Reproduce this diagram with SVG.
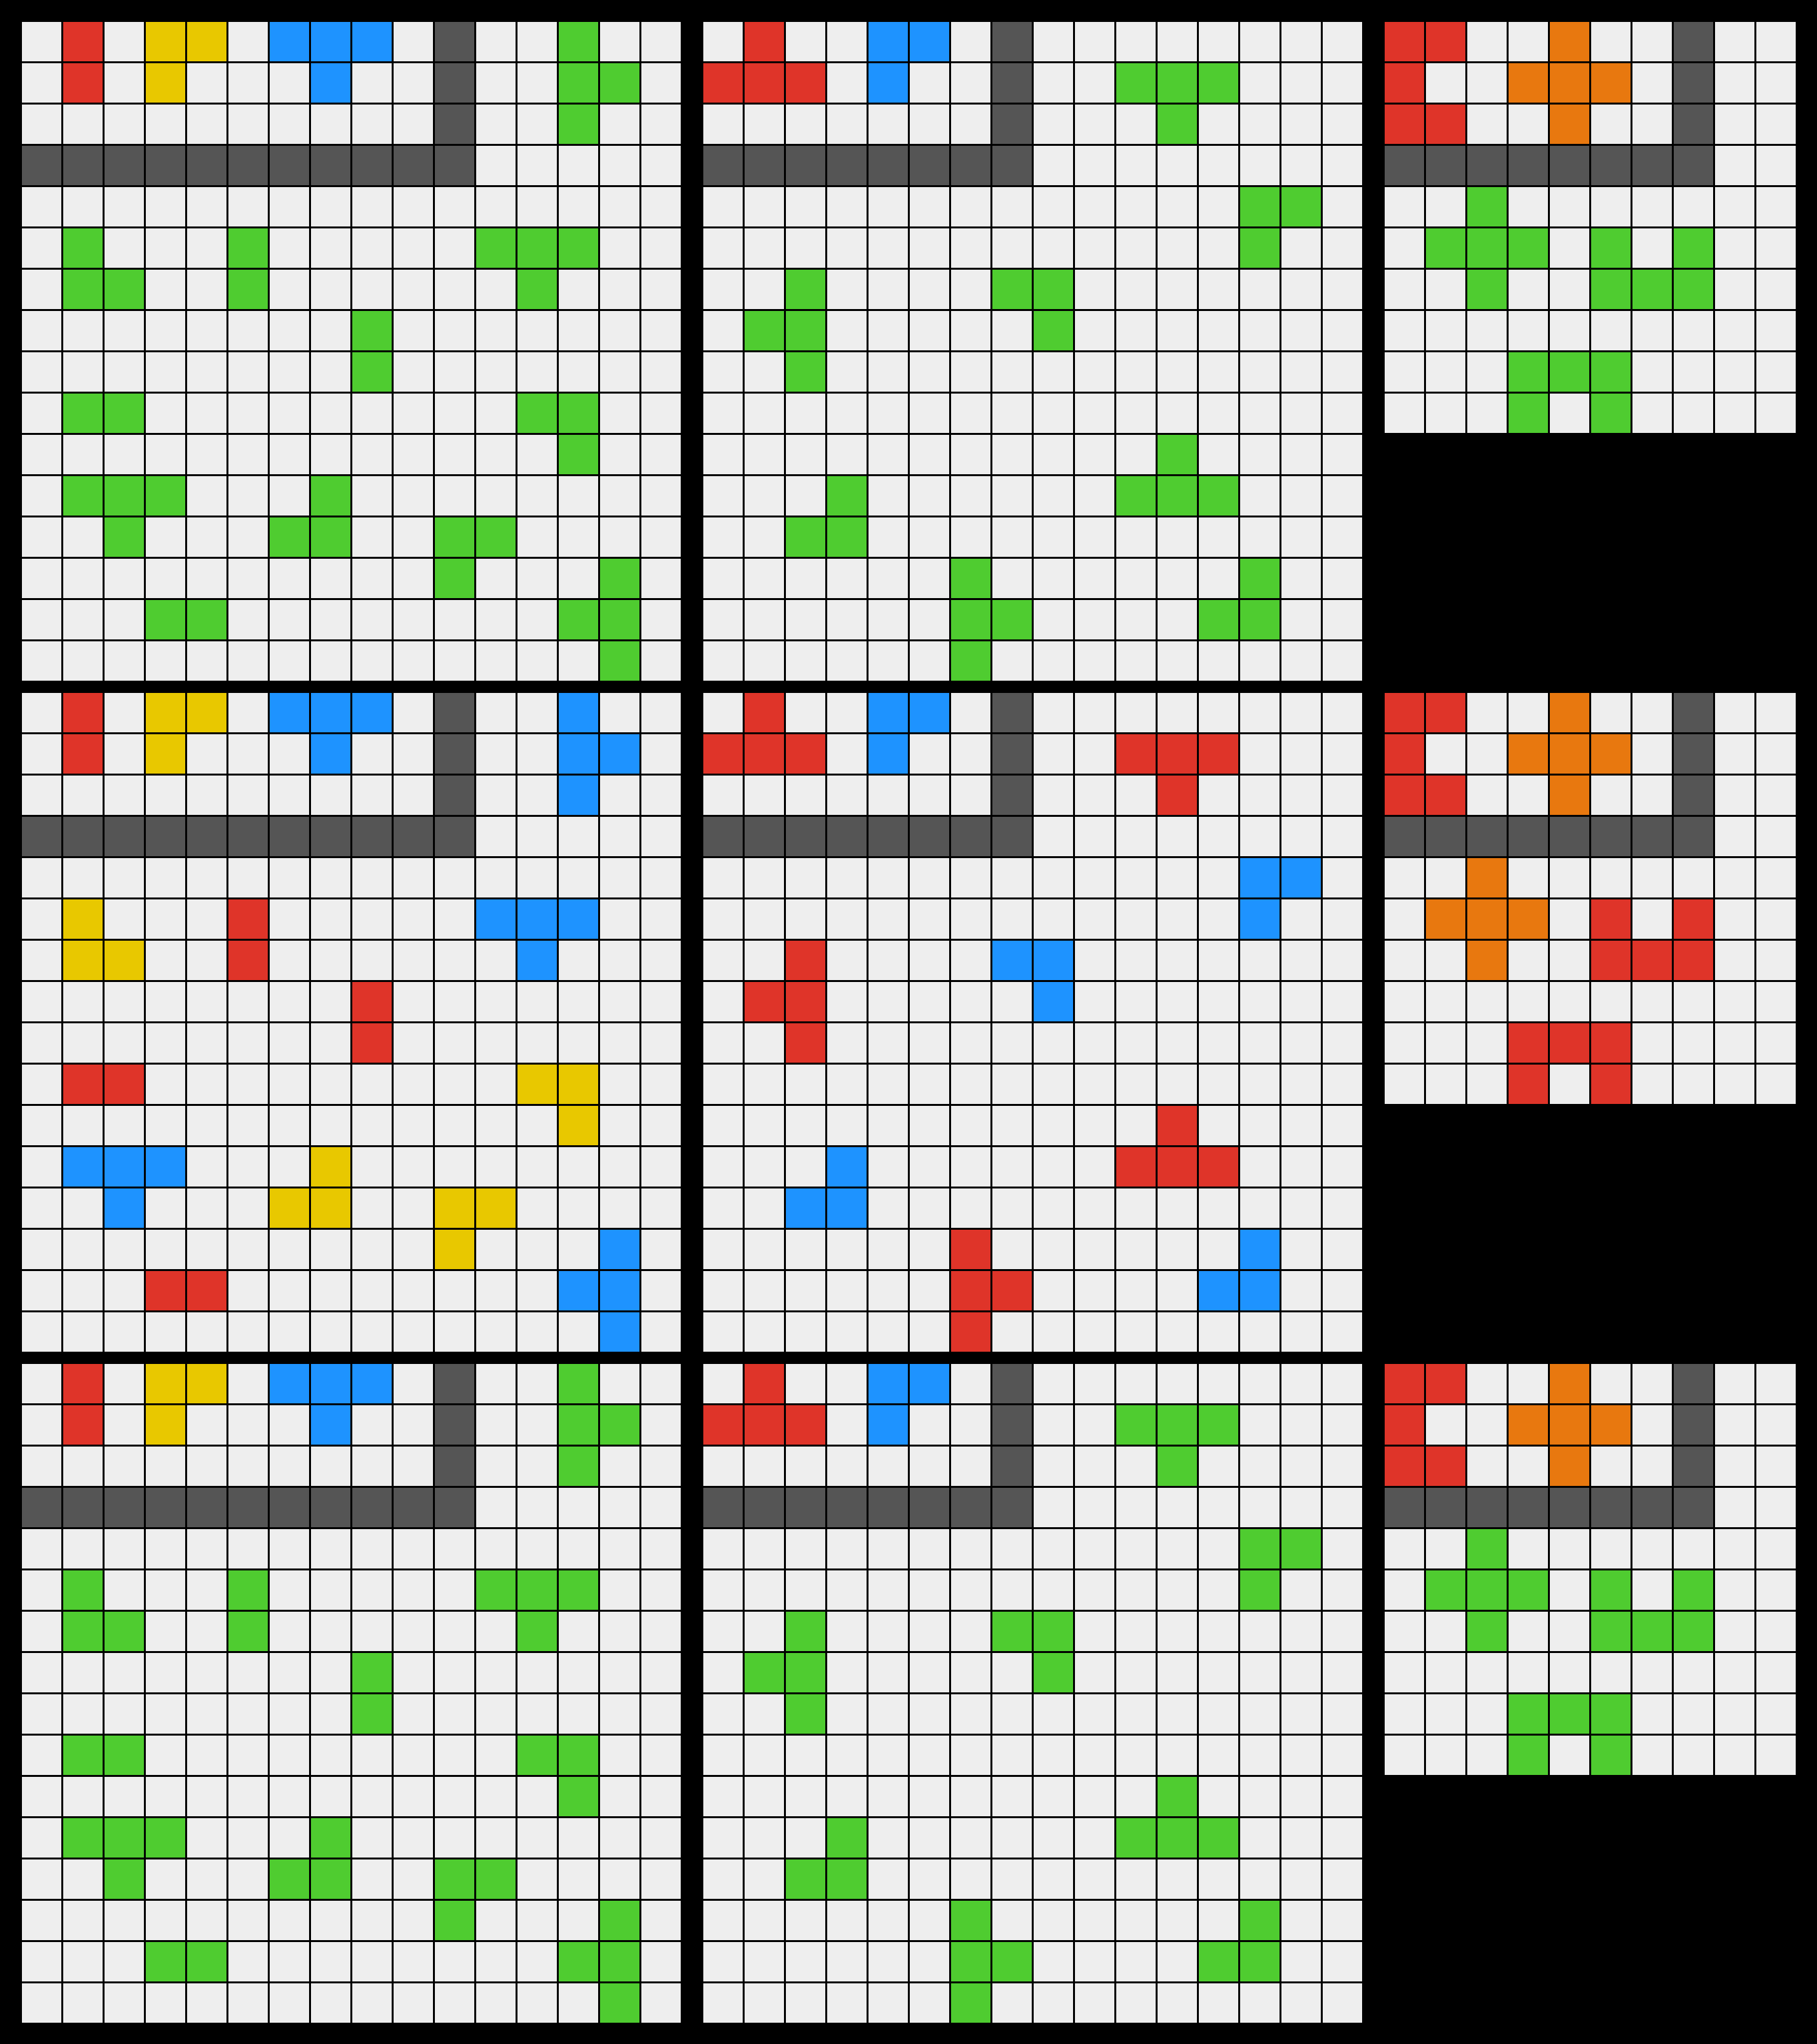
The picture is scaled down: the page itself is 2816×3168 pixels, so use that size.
<svg xmlns="http://www.w3.org/2000/svg" xmlns:xlink="http://www.w3.org/1999/xlink" width="2816" height="3168" viewBox="0 0 2816 3168">
<style>
.r{fill:#DF3429}.y{fill:#E8C800}.b{fill:#1E93FF}.g{fill:#4FCC30}.k{fill:#555555}.o{fill:#E8780F}
</style>
<defs>
<pattern id="p" patternUnits="userSpaceOnUse" x="0" y="0" width="64" height="64"><rect x="2" y="2" width="61" height="61" fill="#EEEEEE"/></pattern>
<rect id="c" width="61" height="61"/>
</defs>
<rect width="2816" height="3168" fill="#000"/>
<g id="connectors"/>

<g id="grid1" transform="translate(32,32)">
<rect width="1024" height="1024" fill="url(#p)"/>
<use href="#c" class="r" x="66" y="2"/><use href="#c" class="r" x="66" y="66"/>
<use href="#c" class="y" x="194" y="2"/><use href="#c" class="y" x="258" y="2"/><use href="#c" class="y" x="194" y="66"/>
<use href="#c" class="b" x="386" y="2"/><use href="#c" class="b" x="450" y="2"/><use href="#c" class="b" x="514" y="2"/><use href="#c" class="b" x="450" y="66"/>
<use href="#c" class="k" x="642" y="2"/><use href="#c" class="k" x="642" y="66"/><use href="#c" class="k" x="642" y="130"/>
<use href="#c" class="k" x="2" y="194"/><use href="#c" class="k" x="66" y="194"/><use href="#c" class="k" x="130" y="194"/><use href="#c" class="k" x="194" y="194"/><use href="#c" class="k" x="258" y="194"/><use href="#c" class="k" x="322" y="194"/><use href="#c" class="k" x="386" y="194"/><use href="#c" class="k" x="450" y="194"/><use href="#c" class="k" x="514" y="194"/><use href="#c" class="k" x="578" y="194"/><use href="#c" class="k" x="642" y="194"/>
<use href="#c" class="g" x="834" y="2"/><use href="#c" class="g" x="834" y="66"/><use href="#c" class="g" x="898" y="66"/><use href="#c" class="g" x="834" y="130"/>
<use href="#c" class="g" x="66" y="322"/><use href="#c" class="g" x="322" y="322"/><use href="#c" class="g" x="706" y="322"/><use href="#c" class="g" x="770" y="322"/><use href="#c" class="g" x="834" y="322"/>
<use href="#c" class="g" x="66" y="386"/><use href="#c" class="g" x="130" y="386"/><use href="#c" class="g" x="322" y="386"/><use href="#c" class="g" x="770" y="386"/>
<use href="#c" class="g" x="514" y="450"/><use href="#c" class="g" x="514" y="514"/>
<use href="#c" class="g" x="66" y="578"/><use href="#c" class="g" x="130" y="578"/><use href="#c" class="g" x="770" y="578"/><use href="#c" class="g" x="834" y="578"/>
<use href="#c" class="g" x="834" y="642"/>
<use href="#c" class="g" x="66" y="706"/><use href="#c" class="g" x="130" y="706"/><use href="#c" class="g" x="194" y="706"/><use href="#c" class="g" x="450" y="706"/>
<use href="#c" class="g" x="130" y="770"/><use href="#c" class="g" x="386" y="770"/><use href="#c" class="g" x="450" y="770"/><use href="#c" class="g" x="642" y="770"/><use href="#c" class="g" x="706" y="770"/>
<use href="#c" class="g" x="642" y="834"/><use href="#c" class="g" x="898" y="834"/>
<use href="#c" class="g" x="194" y="898"/><use href="#c" class="g" x="258" y="898"/><use href="#c" class="g" x="834" y="898"/><use href="#c" class="g" x="898" y="898"/>
<use href="#c" class="g" x="898" y="962"/>
</g>

<g id="grid2" transform="translate(1088,32)">
<rect width="1024" height="1024" fill="url(#p)"/>
<use href="#c" class="r" x="66" y="2"/><use href="#c" class="r" x="2" y="66"/><use href="#c" class="r" x="66" y="66"/><use href="#c" class="r" x="130" y="66"/>
<use href="#c" class="b" x="258" y="2"/><use href="#c" class="b" x="322" y="2"/><use href="#c" class="b" x="258" y="66"/>
<use href="#c" class="k" x="450" y="2"/><use href="#c" class="k" x="450" y="66"/><use href="#c" class="k" x="450" y="130"/>
<use href="#c" class="k" x="2" y="194"/><use href="#c" class="k" x="66" y="194"/><use href="#c" class="k" x="130" y="194"/><use href="#c" class="k" x="194" y="194"/><use href="#c" class="k" x="258" y="194"/><use href="#c" class="k" x="322" y="194"/><use href="#c" class="k" x="386" y="194"/><use href="#c" class="k" x="450" y="194"/>
<use href="#c" class="g" x="642" y="66"/><use href="#c" class="g" x="706" y="66"/><use href="#c" class="g" x="770" y="66"/><use href="#c" class="g" x="706" y="130"/>
<use href="#c" class="g" x="834" y="258"/><use href="#c" class="g" x="898" y="258"/><use href="#c" class="g" x="834" y="322"/>
<use href="#c" class="g" x="130" y="386"/><use href="#c" class="g" x="450" y="386"/><use href="#c" class="g" x="514" y="386"/>
<use href="#c" class="g" x="66" y="450"/><use href="#c" class="g" x="130" y="450"/><use href="#c" class="g" x="514" y="450"/>
<use href="#c" class="g" x="130" y="514"/>
<use href="#c" class="g" x="706" y="642"/>
<use href="#c" class="g" x="194" y="706"/><use href="#c" class="g" x="642" y="706"/><use href="#c" class="g" x="706" y="706"/><use href="#c" class="g" x="770" y="706"/>
<use href="#c" class="g" x="130" y="770"/><use href="#c" class="g" x="194" y="770"/>
<use href="#c" class="g" x="386" y="834"/><use href="#c" class="g" x="834" y="834"/>
<use href="#c" class="g" x="386" y="898"/><use href="#c" class="g" x="450" y="898"/><use href="#c" class="g" x="770" y="898"/><use href="#c" class="g" x="834" y="898"/>
<use href="#c" class="g" x="386" y="962"/>
</g>

<g id="grid3" transform="translate(2144,32)">
<rect width="640" height="640" fill="url(#p)"/>
<use href="#c" class="r" x="2" y="2"/><use href="#c" class="r" x="66" y="2"/><use href="#c" class="r" x="2" y="66"/><use href="#c" class="r" x="2" y="130"/><use href="#c" class="r" x="66" y="130"/>
<use href="#c" class="o" x="258" y="2"/><use href="#c" class="o" x="194" y="66"/><use href="#c" class="o" x="258" y="66"/><use href="#c" class="o" x="322" y="66"/><use href="#c" class="o" x="258" y="130"/>
<use href="#c" class="k" x="450" y="2"/><use href="#c" class="k" x="450" y="66"/><use href="#c" class="k" x="450" y="130"/>
<use href="#c" class="k" x="2" y="194"/><use href="#c" class="k" x="66" y="194"/><use href="#c" class="k" x="130" y="194"/><use href="#c" class="k" x="194" y="194"/><use href="#c" class="k" x="258" y="194"/><use href="#c" class="k" x="322" y="194"/><use href="#c" class="k" x="386" y="194"/><use href="#c" class="k" x="450" y="194"/>
<use href="#c" class="g" x="130" y="258"/>
<use href="#c" class="g" x="66" y="322"/><use href="#c" class="g" x="130" y="322"/><use href="#c" class="g" x="194" y="322"/><use href="#c" class="g" x="322" y="322"/><use href="#c" class="g" x="450" y="322"/>
<use href="#c" class="g" x="130" y="386"/><use href="#c" class="g" x="322" y="386"/><use href="#c" class="g" x="386" y="386"/><use href="#c" class="g" x="450" y="386"/>
<use href="#c" class="g" x="194" y="514"/><use href="#c" class="g" x="258" y="514"/><use href="#c" class="g" x="322" y="514"/>
<use href="#c" class="g" x="194" y="578"/><use href="#c" class="g" x="322" y="578"/>
</g>

<g id="grid4" transform="translate(32,1072)">
<rect width="1024" height="1024" fill="url(#p)"/>
<use href="#c" class="r" x="66" y="2"/><use href="#c" class="r" x="66" y="66"/>
<use href="#c" class="y" x="194" y="2"/><use href="#c" class="y" x="258" y="2"/><use href="#c" class="y" x="194" y="66"/>
<use href="#c" class="b" x="386" y="2"/><use href="#c" class="b" x="450" y="2"/><use href="#c" class="b" x="514" y="2"/><use href="#c" class="b" x="450" y="66"/>
<use href="#c" class="k" x="642" y="2"/><use href="#c" class="k" x="642" y="66"/><use href="#c" class="k" x="642" y="130"/>
<use href="#c" class="k" x="2" y="194"/><use href="#c" class="k" x="66" y="194"/><use href="#c" class="k" x="130" y="194"/><use href="#c" class="k" x="194" y="194"/><use href="#c" class="k" x="258" y="194"/><use href="#c" class="k" x="322" y="194"/><use href="#c" class="k" x="386" y="194"/><use href="#c" class="k" x="450" y="194"/><use href="#c" class="k" x="514" y="194"/><use href="#c" class="k" x="578" y="194"/><use href="#c" class="k" x="642" y="194"/>
<use href="#c" class="b" x="834" y="2"/><use href="#c" class="b" x="834" y="66"/><use href="#c" class="b" x="898" y="66"/><use href="#c" class="b" x="834" y="130"/>
<use href="#c" class="y" x="66" y="322"/><use href="#c" class="r" x="322" y="322"/><use href="#c" class="b" x="706" y="322"/><use href="#c" class="b" x="770" y="322"/><use href="#c" class="b" x="834" y="322"/>
<use href="#c" class="y" x="66" y="386"/><use href="#c" class="y" x="130" y="386"/><use href="#c" class="r" x="322" y="386"/><use href="#c" class="b" x="770" y="386"/>
<use href="#c" class="r" x="514" y="450"/><use href="#c" class="r" x="514" y="514"/>
<use href="#c" class="r" x="66" y="578"/><use href="#c" class="r" x="130" y="578"/><use href="#c" class="y" x="770" y="578"/><use href="#c" class="y" x="834" y="578"/>
<use href="#c" class="y" x="834" y="642"/>
<use href="#c" class="b" x="66" y="706"/><use href="#c" class="b" x="130" y="706"/><use href="#c" class="b" x="194" y="706"/><use href="#c" class="y" x="450" y="706"/>
<use href="#c" class="b" x="130" y="770"/><use href="#c" class="y" x="386" y="770"/><use href="#c" class="y" x="450" y="770"/><use href="#c" class="y" x="642" y="770"/><use href="#c" class="y" x="706" y="770"/>
<use href="#c" class="y" x="642" y="834"/><use href="#c" class="b" x="898" y="834"/>
<use href="#c" class="r" x="194" y="898"/><use href="#c" class="r" x="258" y="898"/><use href="#c" class="b" x="834" y="898"/><use href="#c" class="b" x="898" y="898"/>
<use href="#c" class="b" x="898" y="962"/>
</g>

<g id="grid5" transform="translate(1088,1072)">
<rect width="1024" height="1024" fill="url(#p)"/>
<use href="#c" class="r" x="66" y="2"/><use href="#c" class="r" x="2" y="66"/><use href="#c" class="r" x="66" y="66"/><use href="#c" class="r" x="130" y="66"/>
<use href="#c" class="b" x="258" y="2"/><use href="#c" class="b" x="322" y="2"/><use href="#c" class="b" x="258" y="66"/>
<use href="#c" class="k" x="450" y="2"/><use href="#c" class="k" x="450" y="66"/><use href="#c" class="k" x="450" y="130"/>
<use href="#c" class="k" x="2" y="194"/><use href="#c" class="k" x="66" y="194"/><use href="#c" class="k" x="130" y="194"/><use href="#c" class="k" x="194" y="194"/><use href="#c" class="k" x="258" y="194"/><use href="#c" class="k" x="322" y="194"/><use href="#c" class="k" x="386" y="194"/><use href="#c" class="k" x="450" y="194"/>
<use href="#c" class="r" x="642" y="66"/><use href="#c" class="r" x="706" y="66"/><use href="#c" class="r" x="770" y="66"/><use href="#c" class="r" x="706" y="130"/>
<use href="#c" class="b" x="834" y="258"/><use href="#c" class="b" x="898" y="258"/><use href="#c" class="b" x="834" y="322"/>
<use href="#c" class="r" x="130" y="386"/><use href="#c" class="b" x="450" y="386"/><use href="#c" class="b" x="514" y="386"/>
<use href="#c" class="r" x="66" y="450"/><use href="#c" class="r" x="130" y="450"/><use href="#c" class="b" x="514" y="450"/>
<use href="#c" class="r" x="130" y="514"/>
<use href="#c" class="r" x="706" y="642"/>
<use href="#c" class="b" x="194" y="706"/><use href="#c" class="r" x="642" y="706"/><use href="#c" class="r" x="706" y="706"/><use href="#c" class="r" x="770" y="706"/>
<use href="#c" class="b" x="130" y="770"/><use href="#c" class="b" x="194" y="770"/>
<use href="#c" class="r" x="386" y="834"/><use href="#c" class="b" x="834" y="834"/>
<use href="#c" class="r" x="386" y="898"/><use href="#c" class="r" x="450" y="898"/><use href="#c" class="b" x="770" y="898"/><use href="#c" class="b" x="834" y="898"/>
<use href="#c" class="r" x="386" y="962"/>
</g>

<g id="grid6" transform="translate(2144,1072)">
<rect width="640" height="640" fill="url(#p)"/>
<use href="#c" class="r" x="2" y="2"/><use href="#c" class="r" x="66" y="2"/><use href="#c" class="r" x="2" y="66"/><use href="#c" class="r" x="2" y="130"/><use href="#c" class="r" x="66" y="130"/>
<use href="#c" class="o" x="258" y="2"/><use href="#c" class="o" x="194" y="66"/><use href="#c" class="o" x="258" y="66"/><use href="#c" class="o" x="322" y="66"/><use href="#c" class="o" x="258" y="130"/>
<use href="#c" class="k" x="450" y="2"/><use href="#c" class="k" x="450" y="66"/><use href="#c" class="k" x="450" y="130"/>
<use href="#c" class="k" x="2" y="194"/><use href="#c" class="k" x="66" y="194"/><use href="#c" class="k" x="130" y="194"/><use href="#c" class="k" x="194" y="194"/><use href="#c" class="k" x="258" y="194"/><use href="#c" class="k" x="322" y="194"/><use href="#c" class="k" x="386" y="194"/><use href="#c" class="k" x="450" y="194"/>
<use href="#c" class="o" x="130" y="258"/>
<use href="#c" class="o" x="66" y="322"/><use href="#c" class="o" x="130" y="322"/><use href="#c" class="o" x="194" y="322"/><use href="#c" class="r" x="322" y="322"/><use href="#c" class="r" x="450" y="322"/>
<use href="#c" class="o" x="130" y="386"/><use href="#c" class="r" x="322" y="386"/><use href="#c" class="r" x="386" y="386"/><use href="#c" class="r" x="450" y="386"/>
<use href="#c" class="r" x="194" y="514"/><use href="#c" class="r" x="258" y="514"/><use href="#c" class="r" x="322" y="514"/>
<use href="#c" class="r" x="194" y="578"/><use href="#c" class="r" x="322" y="578"/>
</g>

<g id="grid7" transform="translate(32,2112)">
<rect width="1024" height="1024" fill="url(#p)"/>
<use href="#c" class="r" x="66" y="2"/><use href="#c" class="r" x="66" y="66"/>
<use href="#c" class="y" x="194" y="2"/><use href="#c" class="y" x="258" y="2"/><use href="#c" class="y" x="194" y="66"/>
<use href="#c" class="b" x="386" y="2"/><use href="#c" class="b" x="450" y="2"/><use href="#c" class="b" x="514" y="2"/><use href="#c" class="b" x="450" y="66"/>
<use href="#c" class="k" x="642" y="2"/><use href="#c" class="k" x="642" y="66"/><use href="#c" class="k" x="642" y="130"/>
<use href="#c" class="k" x="2" y="194"/><use href="#c" class="k" x="66" y="194"/><use href="#c" class="k" x="130" y="194"/><use href="#c" class="k" x="194" y="194"/><use href="#c" class="k" x="258" y="194"/><use href="#c" class="k" x="322" y="194"/><use href="#c" class="k" x="386" y="194"/><use href="#c" class="k" x="450" y="194"/><use href="#c" class="k" x="514" y="194"/><use href="#c" class="k" x="578" y="194"/><use href="#c" class="k" x="642" y="194"/>
<use href="#c" class="g" x="834" y="2"/><use href="#c" class="g" x="834" y="66"/><use href="#c" class="g" x="898" y="66"/><use href="#c" class="g" x="834" y="130"/>
<use href="#c" class="g" x="66" y="322"/><use href="#c" class="g" x="322" y="322"/><use href="#c" class="g" x="706" y="322"/><use href="#c" class="g" x="770" y="322"/><use href="#c" class="g" x="834" y="322"/>
<use href="#c" class="g" x="66" y="386"/><use href="#c" class="g" x="130" y="386"/><use href="#c" class="g" x="322" y="386"/><use href="#c" class="g" x="770" y="386"/>
<use href="#c" class="g" x="514" y="450"/><use href="#c" class="g" x="514" y="514"/>
<use href="#c" class="g" x="66" y="578"/><use href="#c" class="g" x="130" y="578"/><use href="#c" class="g" x="770" y="578"/><use href="#c" class="g" x="834" y="578"/>
<use href="#c" class="g" x="834" y="642"/>
<use href="#c" class="g" x="66" y="706"/><use href="#c" class="g" x="130" y="706"/><use href="#c" class="g" x="194" y="706"/><use href="#c" class="g" x="450" y="706"/>
<use href="#c" class="g" x="130" y="770"/><use href="#c" class="g" x="386" y="770"/><use href="#c" class="g" x="450" y="770"/><use href="#c" class="g" x="642" y="770"/><use href="#c" class="g" x="706" y="770"/>
<use href="#c" class="g" x="642" y="834"/><use href="#c" class="g" x="898" y="834"/>
<use href="#c" class="g" x="194" y="898"/><use href="#c" class="g" x="258" y="898"/><use href="#c" class="g" x="834" y="898"/><use href="#c" class="g" x="898" y="898"/>
<use href="#c" class="g" x="898" y="962"/>
</g>

<g id="grid8" transform="translate(1088,2112)">
<rect width="1024" height="1024" fill="url(#p)"/>
<use href="#c" class="r" x="66" y="2"/><use href="#c" class="r" x="2" y="66"/><use href="#c" class="r" x="66" y="66"/><use href="#c" class="r" x="130" y="66"/>
<use href="#c" class="b" x="258" y="2"/><use href="#c" class="b" x="322" y="2"/><use href="#c" class="b" x="258" y="66"/>
<use href="#c" class="k" x="450" y="2"/><use href="#c" class="k" x="450" y="66"/><use href="#c" class="k" x="450" y="130"/>
<use href="#c" class="k" x="2" y="194"/><use href="#c" class="k" x="66" y="194"/><use href="#c" class="k" x="130" y="194"/><use href="#c" class="k" x="194" y="194"/><use href="#c" class="k" x="258" y="194"/><use href="#c" class="k" x="322" y="194"/><use href="#c" class="k" x="386" y="194"/><use href="#c" class="k" x="450" y="194"/>
<use href="#c" class="g" x="642" y="66"/><use href="#c" class="g" x="706" y="66"/><use href="#c" class="g" x="770" y="66"/><use href="#c" class="g" x="706" y="130"/>
<use href="#c" class="g" x="834" y="258"/><use href="#c" class="g" x="898" y="258"/><use href="#c" class="g" x="834" y="322"/>
<use href="#c" class="g" x="130" y="386"/><use href="#c" class="g" x="450" y="386"/><use href="#c" class="g" x="514" y="386"/>
<use href="#c" class="g" x="66" y="450"/><use href="#c" class="g" x="130" y="450"/><use href="#c" class="g" x="514" y="450"/>
<use href="#c" class="g" x="130" y="514"/>
<use href="#c" class="g" x="706" y="642"/>
<use href="#c" class="g" x="194" y="706"/><use href="#c" class="g" x="642" y="706"/><use href="#c" class="g" x="706" y="706"/><use href="#c" class="g" x="770" y="706"/>
<use href="#c" class="g" x="130" y="770"/><use href="#c" class="g" x="194" y="770"/>
<use href="#c" class="g" x="386" y="834"/><use href="#c" class="g" x="834" y="834"/>
<use href="#c" class="g" x="386" y="898"/><use href="#c" class="g" x="450" y="898"/><use href="#c" class="g" x="770" y="898"/><use href="#c" class="g" x="834" y="898"/>
<use href="#c" class="g" x="386" y="962"/>
</g>

<g id="grid9" transform="translate(2144,2112)">
<rect width="640" height="640" fill="url(#p)"/>
<use href="#c" class="r" x="2" y="2"/><use href="#c" class="r" x="66" y="2"/><use href="#c" class="r" x="2" y="66"/><use href="#c" class="r" x="2" y="130"/><use href="#c" class="r" x="66" y="130"/>
<use href="#c" class="o" x="258" y="2"/><use href="#c" class="o" x="194" y="66"/><use href="#c" class="o" x="258" y="66"/><use href="#c" class="o" x="322" y="66"/><use href="#c" class="o" x="258" y="130"/>
<use href="#c" class="k" x="450" y="2"/><use href="#c" class="k" x="450" y="66"/><use href="#c" class="k" x="450" y="130"/>
<use href="#c" class="k" x="2" y="194"/><use href="#c" class="k" x="66" y="194"/><use href="#c" class="k" x="130" y="194"/><use href="#c" class="k" x="194" y="194"/><use href="#c" class="k" x="258" y="194"/><use href="#c" class="k" x="322" y="194"/><use href="#c" class="k" x="386" y="194"/><use href="#c" class="k" x="450" y="194"/>
<use href="#c" class="g" x="130" y="258"/>
<use href="#c" class="g" x="66" y="322"/><use href="#c" class="g" x="130" y="322"/><use href="#c" class="g" x="194" y="322"/><use href="#c" class="g" x="322" y="322"/><use href="#c" class="g" x="450" y="322"/>
<use href="#c" class="g" x="130" y="386"/><use href="#c" class="g" x="322" y="386"/><use href="#c" class="g" x="386" y="386"/><use href="#c" class="g" x="450" y="386"/>
<use href="#c" class="g" x="194" y="514"/><use href="#c" class="g" x="258" y="514"/><use href="#c" class="g" x="322" y="514"/>
<use href="#c" class="g" x="194" y="578"/><use href="#c" class="g" x="322" y="578"/>
</g>
</svg>
